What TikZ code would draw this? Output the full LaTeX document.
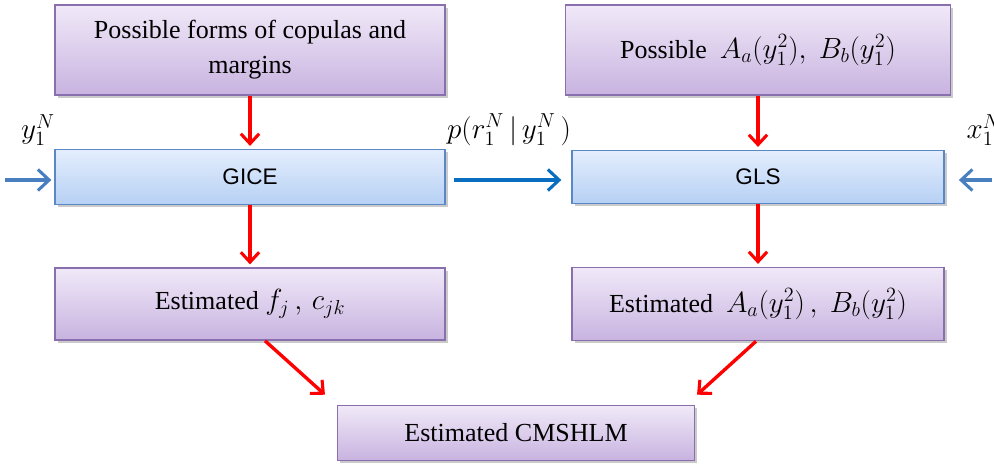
\documentclass[tikz,border=0pt]{standalone}
\usepackage{fontspec}
\setmainfont{Liberation Serif}
\newfontfamily\arialfont{Liberation Sans}
\usetikzlibrary{arrows.meta, shadows, calc}

\definecolor{lilactop}{HTML}{F0E9F8}
\definecolor{lilacbot}{HTML}{C8B3E0}
\definecolor{lilacedge}{HTML}{8A6FAE}
\definecolor{skytop}{HTML}{E4EEFD}
\definecolor{skybot}{HTML}{B6D0F4}
\definecolor{skyedge}{HTML}{5A88C6}
\definecolor{flowblue}{HTML}{0A6EC0}
\definecolor{sideblue}{HTML}{4A7FBF}

\newcommand{\boxmath}[1]{{\fontsize{21}{25}\selectfont$#1$}}

\begin{document}
\begin{tikzpicture}[
    x=0.025cm, y=-0.025cm,
    stage/.style={rectangle, draw=lilacedge, line width=1.1pt, top color=lilactop, bottom color=lilacbot, align=center, font=\fontsize{18.5}{25}\selectfont, drop shadow={shadow xshift=2pt, shadow yshift=-2pt, opacity=0.35, fill=black!60}},
    method/.style={rectangle, draw=skyedge, line width=1.1pt, top color=skytop, bottom color=skybot, align=center, font=\arialfont\fontsize{16}{20}\selectfont, drop shadow={shadow xshift=2pt, shadow yshift=-2pt, opacity=0.35, fill=black!60}},
    redarrow/.style={-{Straight Barb[length=7pt, width=13pt, line width=2.2pt]}, line width=2.4pt, red},
    bluearrow/.style={-{Straight Barb[length=8pt, width=15pt, line width=2.2pt]}, line width=2.5pt},
    lbl/.style={font=\fontsize{22}{26}\selectfont}
]
    \useasboundingbox (0,0) rectangle (994,464);

    % Left column
    \node[stage, minimum width=9.75cm, minimum height=2.25cm] (forms) at (250,50) {Possible forms of copulas and \\ margins};
    \node[method, minimum width=9.75cm, minimum height=1.375cm] (gice) at (250,177) {GICE};
    \node[stage, minimum width=9.75cm, minimum height=1.8cm] (estfc) at (250,304) {Estimated\ \boxmath{f_j\,,\,c_{jk}}};

    % Right column
    \node[stage, minimum width=9.625cm, minimum height=2.25cm] (formsAB) at (758,50) {Possible\ \ \boxmath{A_a(y_1^2),\ B_b(y_1^2)}};
    \node[method, minimum width=9.3cm, minimum height=1.325cm] (gls) at (758,177) {GLS};
    \node[stage, minimum width=9.3cm, minimum height=1.825cm] (estAB) at (758,304) {Estimated\ \ \boxmath{A_a(y_1^2)\,,\ B_b(y_1^2)}};

    % Result
    \node[stage, minimum width=8.925cm, minimum height=1.375cm] (cmshlm) at (516,433) {Estimated CMSHLM};

    % Inputs
    \coordinate (yin) at (5,180);
    \coordinate (xin) at (992,180);
    \node[lbl] (ylab) at (38,130) {$y_1^N$};
    \node[lbl] (plab) at (509,130) {$p(r_1^N\,\big|\,y_1^N\,)$};
    \node[lbl] (xlab) at (984,130) {$x_1^N$};

    % Arrows
    \draw[redarrow, shorten >=2pt] (forms) -- (gice);
    \draw[redarrow, shorten >=2pt] (gice) -- (estfc);
    \draw[redarrow, shorten >=2pt] (formsAB) -- (gls);
    \draw[redarrow, shorten >=2pt] (gls) -- (estAB);
    \draw[redarrow] ([xshift=0.375cm]estfc.south) -- ([xshift=-4.775cm, yshift=0.25cm]cmshlm.north);
    \draw[redarrow] ([xshift=-0.05cm]estAB.south) -- ([xshift=4.525cm, yshift=0.25cm]cmshlm.north);

    \draw[bluearrow, sideblue, shorten >=2pt] (yin) -- (gice.west |- yin);
    \draw[bluearrow, sideblue, shorten >=10pt] (xin) -- (gls.east |- xin);
    \draw[bluearrow, flowblue, shorten <=6pt, shorten >=7pt] (gice.east |- yin) -- (gls.west |- yin);
\end{tikzpicture}
\end{document}
